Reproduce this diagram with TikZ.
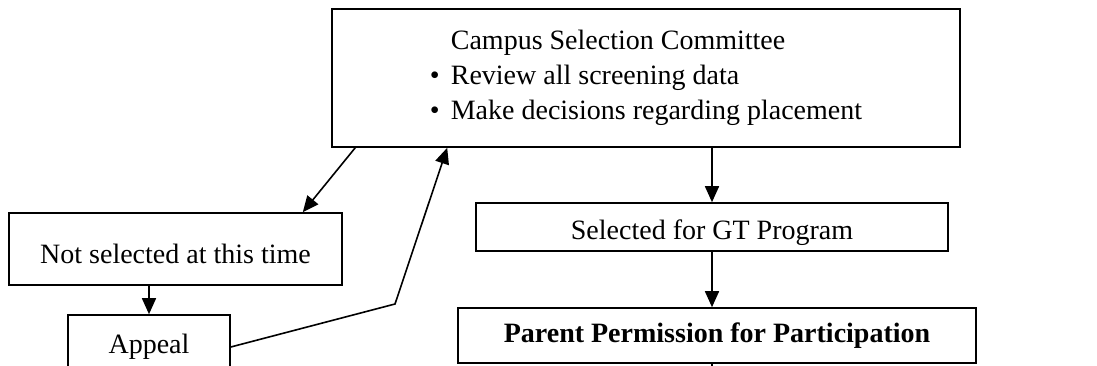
\documentclass[tikz,border=0pt]{standalone}
\usepackage{fontspec}
\setmainfont{Liberation Serif}
\usetikzlibrary{arrows.meta,arrows}
\usetikzlibrary{positioning}

\begin{document}
\begin{tikzpicture}[x=1pt,y=-1pt]

        \useasboundingbox (0,0) rectangle (1097,366);
        \clip (0,0) rectangle (1097,366);

        \begin{scope}[every node/.style={draw,line width=1.6pt,inner sep=0pt,font=\fontsize{28}{35}\selectfont}]
            \node[minimum width=628pt,minimum height=138pt,align=left] (csc) at (646,78)
                {\hspace*{21pt}Campus Selection Committee\\
                 \makebox[21pt][l]{\textbullet}Review all screening data\\
                 \makebox[21pt][l]{\textbullet}Make decisions regarding placement};
            \node[minimum width=333pt,minimum height=72pt,text height=28pt,text depth=0pt] (notsel) at (175.5,249) {Not selected at this time};
            \node[minimum width=162pt,minimum height=64pt] (appeal) at (149,347) {Appeal};
            \node[minimum width=472pt,minimum height=48pt,text height=26pt,text depth=0pt] (selgt) at (712,227) {Selected for GT Program};
            \node[minimum width=518pt,minimum height=55pt,font=\fontsize{28}{35}\selectfont\bfseries] (parent) at (717,335.5) {Parent Permission for Participation};
        \end{scope}

        \coordinate (bend) at (395,304);
        \coordinate (offpage) at (712,400);

        \begin{scope}[>={Triangle[length=16pt,width=14pt]},line width=1.6pt]
            \path [->] ([xshift=24pt]csc.south west) edge ([xshift=-40pt]notsel.north east);
            \path [->] (appeal.north |- notsel.south) edge (appeal.north);
            \draw [->] (appeal.east) -- (bend) -- ([xshift=116pt]csc.south west);
            \path [->] (selgt.north |- csc.south) edge (selgt.north);
            \path [->] (selgt.south) edge (selgt.south |- parent.north);
            \draw (selgt.south |- parent.south) -- (offpage);
        \end{scope}

    \end{tikzpicture}
\end{document}
